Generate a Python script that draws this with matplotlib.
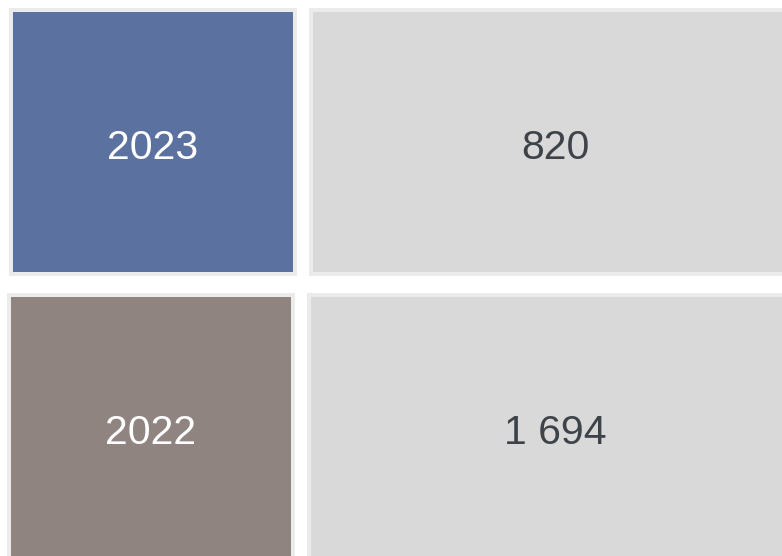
import matplotlib.pyplot as plt
from matplotlib.patches import Rectangle

# data
years = ['2023', '2022']
values = [820, 1694]
year_colors = ['#5b71a0', '#8f8480']

def fmt(v):
    # thousands separated by a space
    return '{:,}'.format(v).replace(',', ' ')

plt.rcParams['font.family'] = ['Liberation Sans', 'DejaVu Sans']

fig = plt.figure(figsize=(7.82, 5.56), dpi=100)
ax = fig.add_axes([0, 0, 1, 1])
ax.set_xlim(0, 782)
ax.set_ylim(556, 0)
ax.axis('off')

border = '#ebebeb'
cell_bg = '#d9d9d9'

# row layout in pixels: (top, height), left cell (x, width), right cell x
rows = [(8, 268, 9, 288, 309), (293, 290, 7, 288, 307)]

for i, (year, val) in enumerate(zip(years, values)):
    top, h, lx, lw, rx = rows[i]
    # left cell: year
    ax.add_patch(Rectangle((lx, top), lw, h, facecolor=border, edgecolor='none'))
    ax.add_patch(Rectangle((lx + 3.5, top + 4), lw - 7.5, h - 8, facecolor=year_colors[i], edgecolor='none'))
    ax.text(lx + lw / 2, top + 140, year, color='white', fontsize=29.5, ha='center', va='center')
    # right cell: value
    ax.add_patch(Rectangle((rx, top), 800 - rx, h, facecolor=border, edgecolor='none'))
    ax.add_patch(Rectangle((rx + 4, top + 4), 800 - rx, h - 8, facecolor=cell_bg, edgecolor='none'))
    ax.text(555, top + 140, fmt(val), color='#3d4348', fontsize=29.5, ha='center', va='center')

fig.savefig('out.png', dpi=100)
